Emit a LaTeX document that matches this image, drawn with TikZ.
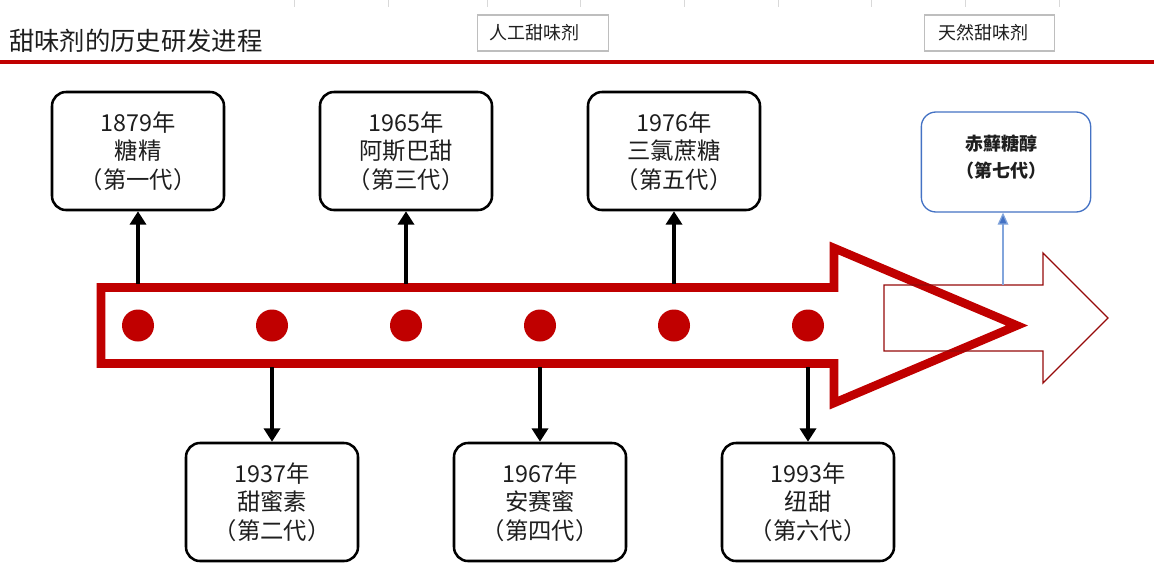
\documentclass[tikz,border=0pt]{standalone}
\usepackage{fontspec}
\setmainfont{Noto Sans CJK SC}
\usetikzlibrary{arrows.meta}
\definecolor{mred}{RGB}{192,0,0}
\definecolor{dred}{RGB}{150,10,10}
\definecolor{mblue}{RGB}{68,114,196}
\definecolor{lblue}{RGB}{130,165,220}
\definecolor{tgray}{RGB}{190,190,190}
\definecolor{txt}{RGB}{30,30,30}
\tikzset{
  gen/.style={draw=black, line width=1.9pt, rounded corners=10.5pt, fill=white,
    minimum width=129pt, minimum height=88.5pt, align=center,
    font=\fontsize{17.5}{21.5}\selectfont, text=txt, inner sep=0pt},
  conn/.style={line width=2.6pt, draw=black,
    -{Triangle[length=10pt,width=12pt]}},
  dot/.style={circle, fill=mred, minimum size=24pt, inner sep=0pt},
  tag/.style={draw=tgray, line width=0.8pt, minimum width=98pt, minimum height=27pt},
  tagtext/.style={anchor=west, font=\fontsize{13.5}{16}\selectfont, text=txt, inner sep=0pt},
}
\begin{document}
\begin{tikzpicture}[x=0.75pt,y=-0.75pt]
\useasboundingbox (0,0) rectangle (1154,575);
\fill[white] (0,0) rectangle (1154,575);
% faint grid ticks
\foreach \t in {294,388,487,580,684,778,871,965,1059}
  \draw[gray!30, line width=0.6pt] (\t,0) -- (\t,7);
% title
\node[anchor=west, inner sep=0pt, font=\fontsize{19}{22}\selectfont, text=txt] (title) at (9,41) {甜味剂的历史研发进程};
\draw[mred, line width=2.4pt] (0,62) -- (1154,62);
% tags
\node[tag] (tagA) at (543,33) {};
\node[tagtext] (tagAt) at (489,33) {人工甜味剂};
\node[tag] (tagB) at (989.5,33) {};
\node[tagtext] (tagBt) at (938,33) {天然甜味剂};
% big arrow
\draw[mred, line width=6.4pt, fill=white, line join=miter]
  (101,287.5) -- (834,287.5) -- (834,248) -- (1017,325.5) -- (834,403) -- (834,363.5) -- (101,363.5) -- cycle;
% thin outline arrow
\draw[dred, line width=1pt]
  (884,285) -- (1043,285) -- (1043,253) -- (1108,318) -- (1043,383) -- (1043,351) -- (884,351) -- cycle;
% dots
\foreach \i/\x in {1/138,2/272,3/406,4/540,5/674,6/808}
  \node[dot] (d\i) at (\x,325.5) {};
% boxes
\node[gen] (b1) at (138,151) {1879年\\糖精\\（第一代）};
\node[gen] (b3) at (406,151) {1965年\\阿斯巴甜\\（第三代）};
\node[gen] (b5) at (674,151) {1976年\\三氯蔗糖\\（第五代）};
\node[gen] (b2) at (272,502) {1937年\\甜蜜素\\（第二代）};
\node[gen] (b4) at (540,502) {1967年\\安赛蜜\\（第四代）};
\node[gen] (b6) at (808,502) {1993年\\纽甜\\（第六代）};
\node[draw=mblue, line width=1pt, rounded corners=11pt, minimum width=127pt, minimum height=75pt] (b7) at (1006,162) {};
\node[align=center, font=\bfseries\fontsize{13.5}{20.5}\selectfont, text=txt, inner sep=0pt] (b7t) at (1001,157) {赤蘚糖醇\\（第七代）};
% connectors
\coordinate (s1) at (138,284);
\coordinate (s3) at (406,284);
\coordinate (s5) at (674,284);
\coordinate (s2) at (272,367);
\coordinate (s4) at (540,367);
\coordinate (s6) at (808,367);
\coordinate (s7) at (1003,285);
\draw[conn] (s1) -- (b1.south);
\draw[conn] (s3) -- (b3.south);
\draw[conn] (s5) -- (b5.south);
\draw[conn] (s2) -- (b2.north);
\draw[conn] (s4) -- (b4.north);
\draw[conn] (s6) -- (b6.north);
\draw[lblue, line width=0.9pt, -{Triangle[length=9pt,width=8pt,fill=mblue]}, draw=lblue] (s7) -- (s7 |- b7.south);
\end{tikzpicture}
\end{document}
